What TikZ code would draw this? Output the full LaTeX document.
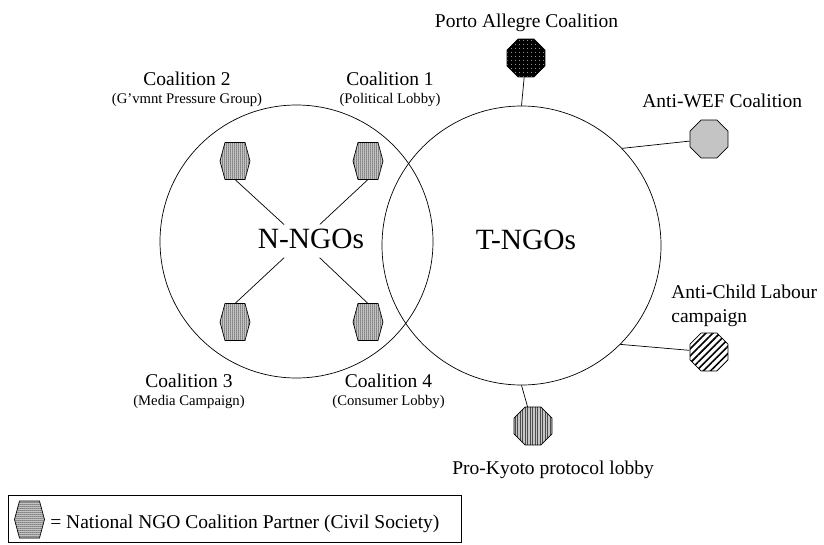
\documentclass[tikz,border=0pt]{standalone}
\usepackage{fontspec}
\setmainfont{Liberation Serif}
\usetikzlibrary{shapes.geometric,patterns,patterns.meta}

\tikzset{
    lbl/.style={font=\fontsize{19.5}{23}\selectfont, inner sep=0pt},
    sublbl/.style={font=\fontsize{14.7}{17}\selectfont, inner sep=0pt},
    bigname/.style={font=\fontsize{29.4}{34}\selectfont, inner sep=0pt},
    hexbox/.style={minimum width=30pt, minimum height=37pt, inner sep=0pt, outer sep=0pt},
    hexfill/.style={draw, line width=0.7pt, pattern={Dots[distance=2pt,radius=0.75pt]}},
    octo/.style={draw, line width=0.7pt, regular polygon, regular polygon sides=8, minimum size=41pt, inner sep=0pt},
}

\begin{document}
\begin{tikzpicture}[x=1pt,y=1pt,yscale=-1,line width=0.7pt]
        \useasboundingbox (0,0) rectangle (824,544);

        % circles
        \node (nngo) [circle, draw, minimum size=273pt, inner sep=0pt] at (296.5,241.5) {};
        \node (tngo) [circle, draw, minimum size=279pt, inner sep=0pt] at (521.5,245.5) {};
        \node (nlab) [bigname, anchor=base] at (311,248) {N-NGOs};
        \node (tlab) [bigname, anchor=base] at (526,249) {T-NGOs};
        \node (hub) [circle, minimum size=48pt, inner sep=0pt] at (302,241) {};

        % national coalition partners
        \node (h1) [hexbox] at (235,161) {};
        \node (h2) [hexbox] at (368,161) {};
        \node (h3) [hexbox] at (235,322) {};
        \node (h4) [hexbox] at (368,322) {};
        \node (hl) [hexbox] at (29.5,519.5) {};
        \foreach \h in {h1,h2,h3,h4,hl}{
            \draw [hexfill] (\h.west) -- ([xshift=5pt]\h.north west) -- ([xshift=-5pt]\h.north east) -- (\h.east) -- ([xshift=-5pt]\h.south east) -- ([xshift=5pt]\h.south west) -- cycle;
        }
        \foreach \h in {h1,h2}{ \draw (\h.south) -- (hub); }
        \foreach \h in {h3,h4}{ \draw (\h.north) -- (hub); }

        % transnational coalitions
        \node (porto) [octo, preaction={fill=black}, pattern={Dots[distance=4pt,radius=0.5pt]}, pattern color=white] at (526,58) {};
        \node (wef) [octo, pattern={Dots[distance=2pt,radius=0.65pt]}] at (709,139) {};
        \node (child) [octo, pattern={Lines[angle=45,distance=5pt,line width=1.6pt]}] at (709,352) {};
        \node (kyoto) [octo, preaction={fill=gray!45}, pattern={Lines[angle=90,distance=2.5pt,line width=0.5pt]}, pattern color=black!70] at (533,426) {};
        \draw (tngo.90) -- (porto);
        \draw (tngo.44) -- (wef);
        \draw (tngo.-45) -- (child);
        \draw (tngo.-90) -- (kyoto);

        \node [lbl, anchor=base] at (526.5,27) {Porto Allegre Coalition};
        \node [lbl, anchor=base west] at (642,107) {Anti-WEF Coalition};
        \node [lbl, anchor=base west] at (671,298) {Anti-Child Labour};
        \node [lbl, anchor=base west] at (671,322) {campaign};
        \node [lbl, anchor=base west] at (452,474) {Pro-Kyoto protocol lobby};

        \foreach \x/\y/\n/\s in {390/85/1/(Political Lobby), 187/85/2/(G'vmnt Pressure Group), 189/387/3/(Media Campaign), 388.5/387/4/(Consumer Lobby)}{
            \node [lbl, anchor=base] at (\x,\y) {Coalition \n};
            \node [sublbl, anchor=base] at (\x,\y+18.5) {\s};
        }

        % legend
        \node (legend) [draw, line width=0.6pt, minimum width=453pt, minimum height=47pt, inner sep=0pt, anchor=north west] at (8,495) {};
        \node [lbl, anchor=base west] at (50,528) {= National NGO Coalition Partner (Civil Society)};
    \end{tikzpicture}
\end{document}
